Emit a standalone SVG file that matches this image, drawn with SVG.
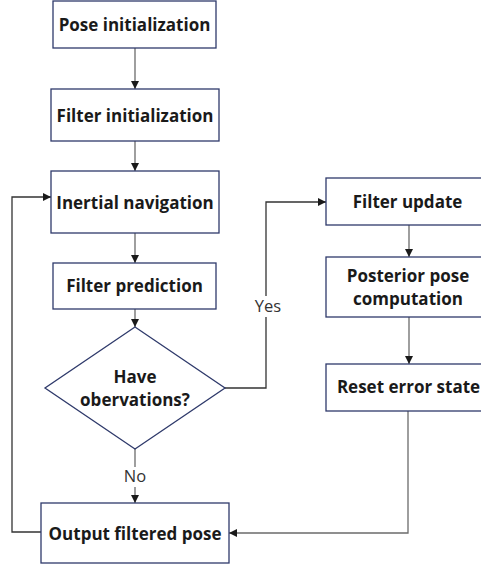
<svg xmlns="http://www.w3.org/2000/svg" width="481" height="569" viewBox="0 0 481 569">
<defs>
<style>
.box{fill:#fff;stroke:#2f3a6b;stroke-width:1.3}
.t{font-family:"Open Sans","Noto Sans",sans-serif;font-weight:bold;font-size:17px;fill:#1a1a1a;text-anchor:middle}
.l{font-family:"Open Sans","Noto Sans",sans-serif;font-size:16.5px;fill:#333;text-anchor:middle}
.c{fill:none;stroke:#6b6b6b;stroke-width:1.3}
.k{fill:none;stroke:#333;stroke-width:1.3}
</style>
<marker id="a" viewBox="0 0 10 10" refX="10" refY="5" markerWidth="8" markerHeight="8" markerUnits="userSpaceOnUse" orient="auto">
<path d="M0,0 L10,5 L0,10 z" fill="#1a1a1a"/>
</marker>
</defs>
<g id="connectors">
<path class="c" d="M135,48 V89" marker-end="url(#a)"/>
<path class="c" d="M135,141 V171" marker-end="url(#a)"/>
<path class="c" d="M135,233 V263" marker-end="url(#a)"/>
<path class="c" d="M135,309 V327" marker-end="url(#a)"/>
<path class="c" d="M135,449 V503" marker-end="url(#a)"/>
<path class="k" d="M225,388 H266 V202 H326" marker-end="url(#a)"/>
<path class="c" d="M409,225 V257" marker-end="url(#a)"/>
<path class="c" d="M409,317 V364" marker-end="url(#a)"/>
<path class="c" d="M408,411 V533 H229" marker-end="url(#a)"/>
<path class="k" d="M41,532 H12 V197 H51" marker-end="url(#a)"/>
<rect x="123" y="467" width="24" height="20" fill="#fff"/>
<text class="l" x="135" y="482">No</text>
<rect x="252" y="296" width="32" height="21" fill="#fff"/>
<text class="l" x="268" y="312">Yes</text>
</g>
<g id="pose-init">
<rect class="box" x="53" y="1" width="163" height="47"/>
<text class="t" x="134.5" y="31">Pose initialization</text>
</g>
<g id="filter-init">
<rect class="box" x="51" y="89" width="168" height="52"/>
<text class="t" x="135" y="122">Filter initialization</text>
</g>
<g id="inertial-nav">
<rect class="box" x="51" y="171" width="168" height="62"/>
<text class="t" x="135" y="209">Inertial navigation</text>
</g>
<g id="filter-pred">
<rect class="box" x="53" y="263" width="163" height="46"/>
<text class="t" x="134.5" y="292">Filter prediction</text>
</g>
<g id="decision">
<polygon class="box" points="135,327 225,388 135,449 45,388"/>
<text class="t" x="135" y="383">Have</text>
<text class="t" x="135" y="406">obervations?</text>
</g>
<g id="output">
<rect class="box" x="41" y="503" width="188" height="60"/>
<text class="t" x="135" y="540">Output filtered pose</text>
</g>
<g id="filter-update">
<rect class="box" x="326" y="178" width="166" height="47"/>
<text class="t" x="407.5" y="208">Filter update</text>
</g>
<g id="posterior">
<rect class="box" x="326" y="257" width="166" height="60"/>
<text class="t" x="408" y="282">Posterior pose</text>
<text class="t" x="408" y="305">computation</text>
</g>
<g id="reset">
<rect class="box" x="326" y="364" width="166" height="47"/>
<text class="t" x="408.5" y="393">Reset error state</text>
</g>
</svg>
